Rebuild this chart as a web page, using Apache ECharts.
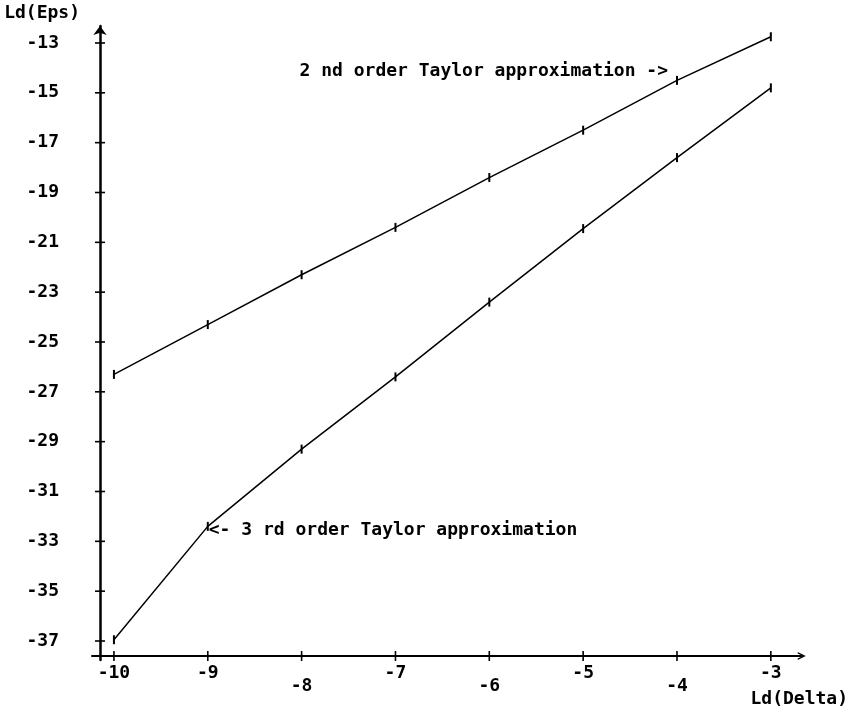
<!DOCTYPE html>
<html>
<head>
<meta charset="utf-8">
<script src="https://cdn.jsdelivr.net/npm/echarts@6/dist/echarts.min.js"></script>
<style>
  html, body { margin: 0; padding: 0; background: #fff; }
  #chart { width: 851px; height: 708px; }
</style>
</head>
<body>
<div id="chart"></div>
<script>
// Step sizes (log2 of delta) and the resulting log2 error of each approximation
const ldDelta = [-10, -9, -8, -7, -6, -5, -4, -3];
const secondOrderEps = [-26.3, -24.3, -22.3, -20.4, -18.4, -16.5, -14.5, -12.75];
const thirdOrderEps = [-36.95, -32.4, -29.3, -26.4, -23.4, -20.45, -17.6, -14.8];

// Tick labels
const xTicks = [-10, -9, -8, -7, -6, -5, -4, -3];
const xTicksLowered = [-8, -6, -4];
const yTicks = [-37, -35, -33, -31, -29, -27, -25, -23, -21, -19, -17, -15, -13];

// Axis titles and curve annotations
const xName = 'Ld(Delta)';
const yName = 'Ld(Eps)';
const secondOrderNote = '2 nd order Taylor approximation ->';
const thirdOrderNote = '<- 3 rd order Taylor approximation';
const secondOrderNoteAt = -4;
const thirdOrderNoteAt = -9;

const FONT = '"DejaVu Sans Mono", "Liberation Mono", monospace';
const INK = '#000';
const textBase = { fontFamily: FONT, fontWeight: 'bold', fontSize: 18, color: INK };

// axes sit a little inside the plot box so that each overhangs the other
const X_AXIS_SHIFT = 4;
const Y_AXIS_SHIFT = 8;
const TICK_HALF = 5;

function buildPoints(ys, noteAt, note, labelOpts) {
  return ldDelta.map(function (x, i) {
    if (x === noteAt) {
      return {
        value: [x, ys[i]],
        label: Object.assign({ show: true, formatter: note }, textBase, labelOpts)
      };
    }
    return [x, ys[i]];
  });
}

// open arrow head at the end of the horizontal axis
const chevron = 'path://M0,10 L5,0 L10,10 L8.2,10 L5,3.6 L1.8,10 Z';

const xRange = { min: -10.2337, max: -2.6707 };
const yRange = { min: -37.7625, max: -12.318 };

// cross-shaped ticks straddling the axis lines
function crossTicks(kind) {
  return function (params, api) {
    const cs = params.coordSys;
    let x1, y1, x2, y2;
    if (kind === 'x') {
      const px = api.coord([api.value(0), api.value(1)])[0];
      const py = cs.y + cs.height - X_AXIS_SHIFT;
      x1 = px; x2 = px; y1 = py - TICK_HALF; y2 = py + TICK_HALF;
    } else {
      const py = api.coord([api.value(0), api.value(1)])[1];
      const px = cs.x + Y_AXIS_SHIFT;
      x1 = px - TICK_HALF; x2 = px + TICK_HALF; y1 = py; y2 = py;
    }
    return {
      type: 'line',
      shape: { x1: x1, y1: y1, x2: x2, y2: y2 },
      style: { stroke: INK, lineWidth: 1.6 }
    };
  };
}

const option = {
  animation: false,
  backgroundColor: '#fff',
  grid: { left: 92, right: 47, top: 26, bottom: 48, containLabel: false },
  xAxis: {
    type: 'value',
    min: xRange.min, max: xRange.max,
    position: 'bottom',
    offset: -X_AXIS_SHIFT,
    splitLine: { show: false },
    axisLine: {
      show: true,
      symbol: ['none', chevron],
      symbolSize: [11, 8],
      lineStyle: { color: INK, width: 2 }
    },
    axisTick: { show: false },
    axisLabel: {
      show: true,
      customValues: xTicks,
      margin: 8,
      formatter: function (v) {
        return xTicksLowered.indexOf(v) >= 0 ? '{lo|' + v + '}' : '{hi|' + v + '}';
      },
      rich: {
        hi: Object.assign({}, textBase),
        lo: Object.assign({ padding: [13, 0, 0, 0] }, textBase)
      }
    },
    name: xName,
    nameLocation: 'end',
    nameGap: -2.5,
    nameTextStyle: Object.assign({ align: 'center', verticalAlign: 'top', padding: [34, 0, 0, 0] }, textBase)
  },
  yAxis: {
    type: 'value',
    min: yRange.min, max: yRange.max,
    position: 'left',
    offset: -Y_AXIS_SHIFT,
    splitLine: { show: false },
    axisLine: {
      show: true,
      symbol: ['none', 'arrow'],
      symbolSize: [10, 9],
      lineStyle: { color: INK, width: 2.5 }
    },
    axisTick: { show: false },
    axisLabel: Object.assign({ show: true, customValues: yTicks, margin: 41 }, textBase),
    name: yName,
    nameLocation: 'end',
    nameGap: 13,
    nameTextStyle: Object.assign({ align: 'right', verticalAlign: 'middle', padding: [0, 20, 0, 0] }, textBase)
  },
  series: [
    {
      name: '2nd order',
      type: 'line',
      data: buildPoints(secondOrderEps, secondOrderNoteAt, secondOrderNote,
        { position: 'left', distance: 8, offset: [0, -9] }),
      lineStyle: { color: INK, width: 1.5 },
      symbol: 'rect',
      symbolSize: [2, 9],
      itemStyle: { color: INK },
      emphasis: { disabled: true },
      silent: true
    },
    {
      name: '3rd order',
      type: 'line',
      data: buildPoints(thirdOrderEps, thirdOrderNoteAt, thirdOrderNote,
        { position: 'right', distance: 0, offset: [0, 4] }),
      lineStyle: { color: INK, width: 1.5 },
      symbol: 'rect',
      symbolSize: [2, 9],
      itemStyle: { color: INK },
      emphasis: { disabled: true },
      silent: true
    },
    {
      name: 'x ticks',
      type: 'custom',
      clip: false,
      silent: true,
      renderItem: crossTicks('x'),
      data: xTicks.map(function (v) { return [v, yRange.min]; })
    },
    {
      name: 'y ticks',
      type: 'custom',
      clip: false,
      silent: true,
      renderItem: crossTicks('y'),
      data: yTicks.map(function (v) { return [xRange.min, v]; })
    }
  ]
};

const chart = echarts.init(document.getElementById('chart'), null, { renderer: 'canvas' });
chart.setOption(option);
</script>
</body>
</html>
